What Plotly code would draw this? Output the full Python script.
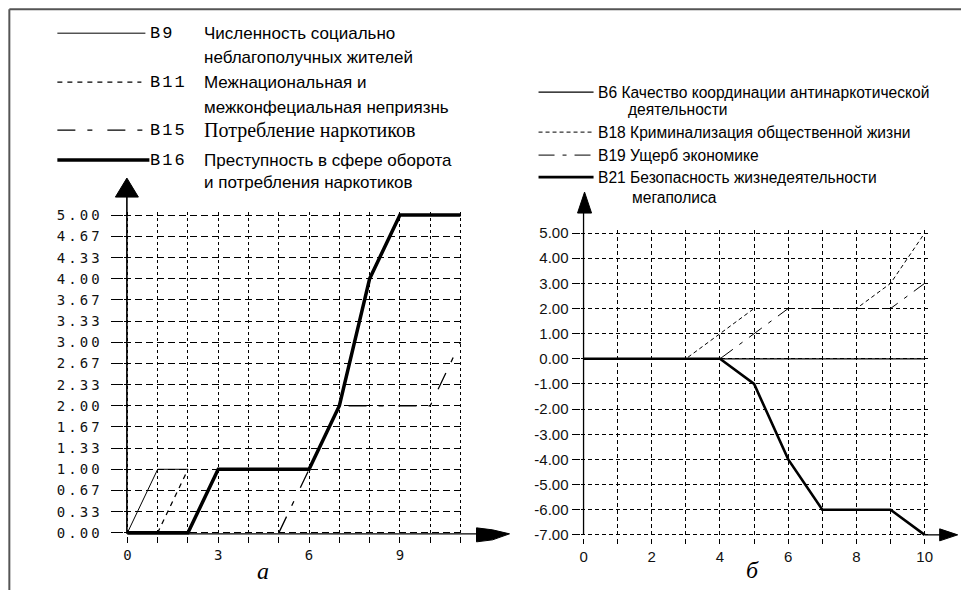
import plotly.graph_objects as go

# ---------------- data ----------------
a_x_ticks = [0, 1, 2, 3, 4, 5, 6, 7, 8, 9, 10, 11]
a_x_labels = ["0", "", "", "3", "", "", "6", "", "", "9", "", ""]
a_y_labels = ["0.00", "0.33", "0.67", "1.00", "1.33", "1.67", "2.00", "2.33",
              "2.67", "3.00", "3.33", "3.67", "4.00", "4.33", "4.67", "5.00"]

b9_x = [0, 1, 2]
b9_y = [0, 1, 1]
b11_x = [0, 1, 2]
b11_y = [0, 0, 1]
b15_x = [5, 6, 7, 10, 11]
b15_y = [0, 1, 2, 2, 3]
b16_x = [0, 2, 3, 6, 7, 8, 9, 11]
b16_y = [0, 0, 1, 1, 2, 4, 5, 5]

a_codes = ["B9", "B11", "B15", "B16"]
a_desc = [["Численность социально", "неблагополучных жителей"],
          ["Межнациональная и", "межконфециальная неприязнь"],
          ["Потребление наркотиков"],
          ["Преступность в сфере оборота", "и потребления наркотиков"]]

b_x_ticks = [0, 1, 2, 3, 4, 5, 6, 7, 8, 9, 10]
b_x_labels = ["0", "", "2", "", "4", "", "6", "", "8", "", "10"]
b_y_ticks = [-7, -6, -5, -4, -3, -2, -1, 0, 1, 2, 3, 4, 5]
b_y_labels = ["-7.00", "-6.00", "-5.00", "-4.00", "-3.00", "-2.00", "-1.00",
              "0.00", "1.00", "2.00", "3.00", "4.00", "5.00"]

b6_x = [0, 10]
b6_y = [0, 0]
b18_x = [0, 3, 4, 5, 8, 9, 10]
b18_y = [0, 0, 1, 2, 2, 3, 5]
b19_x = [4, 5, 6, 9, 10]
b19_y = [0, 1, 2, 2, 3]
b21_x = [0, 4, 5, 6, 7, 9, 10]
b21_y = [0, 0, -1, -4, -6, -6, -7]

b_codes = ["B6", "B18", "B19", "B21"]
b_desc = [["Качество координации антинаркотической", "деятельности"],
          ["Криминализация общественной жизни"],
          ["Ущерб экономике"],
          ["Безопасность жизнедеятельности", "мегаполиса"]]

# ---------------- styles ----------------
W, H = 961, 590
BLACK = "#000000"
a_styles = [dict(width=1.0, dash="solid"),
            dict(width=1.3, dash="5px,5px"),
            dict(width=1.3, dash="18px,12px,5px,15px"),
            dict(width=3.5, dash="solid")]
b_styles = [dict(width=1.2, dash="solid"),
            dict(width=1.0, dash="4px,3px"),
            dict(width=1.0, dash="16px,8px,4px,8px"),
            dict(width=2.6, dash="solid")]

MONO = "DejaVu Sans Mono"
SANS = "Liberation Sans, Arial, sans-serif"
SERIF = "Liberation Serif, Times New Roman, serif"

# measured rendering offset/scale of the capture (compensated below)
SX, OX = 0.9934, 0.66
SY, OY = 0.982, 5.8


def px(x):
    return ((x - OX) / SX) / W


def py(y):
    return 1 - ((y - OY) / SY) / H


def axis_x(p0, p1, v0, v1, pad=3):
    s = (p1 - p0) / (v1 - v0)
    return [v0 - pad / s, v1 + pad / s], [px(p0 - pad), px(p1 + pad)]


def axis_y(p0, p1, v0, v1, pad=3):
    s = (p0 - p1) / (v1 - v0)
    return [v0 - pad / s, v1 + pad / s], [py(p0 + pad), py(p1 - pad)]


A_X0, A_X1 = 127, 460   # x = 0 .. 11
A_Y0, A_Y1 = 533, 215   # y = 0 .. 5
B_X0, B_X1 = 583, 924   # x = 0 .. 10
B_Y0, B_Y1 = 535, 233   # y = -7 .. 5

a_xr, a_xd = axis_x(A_X0, A_X1, 0, 11)
a_yr, a_yd = axis_y(A_Y0, A_Y1, 0, 5)
b_xr, b_xd = axis_x(B_X0, B_X1, 0, 10)
b_yr, b_yd = axis_y(B_Y0, B_Y1, -7, 5)

fig = go.Figure()

a_series = [(b9_x, b9_y), (b11_x, b11_y), (b15_x, b15_y), (b16_x, b16_y)]
for (xs, ys), st, code in zip(a_series, a_styles, a_codes):
    fig.add_trace(go.Scatter(x=xs, y=ys, mode="lines", name=code,
                             line=dict(color=BLACK, width=st["width"], dash=st["dash"]),
                             xaxis="x", yaxis="y", showlegend=False))

b_series = [(b6_x, b6_y), (b18_x, b18_y), (b19_x, b19_y), (b21_x, b21_y)]
for (xs, ys), st, code in zip(b_series, b_styles, b_codes):
    fig.add_trace(go.Scatter(x=xs, y=ys, mode="lines", name=code,
                             line=dict(color=BLACK, width=st["width"], dash=st["dash"]),
                             xaxis="x2", yaxis="y2", showlegend=False))

spaced = lambda t: "<span style='letter-spacing:3px'>%s</span>" % t

common = dict(showline=False, zeroline=False, showgrid=True, gridcolor=BLACK,
              gridwidth=1, ticks="outside", tickcolor=BLACK, tickwidth=1, fixedrange=True)

fig.update_layout(
    width=W, height=H, margin=dict(l=0, r=0, t=0, b=0),
    paper_bgcolor="white", plot_bgcolor="rgba(0,0,0,0)",
    xaxis=dict(domain=a_xd, range=a_xr, tickmode="array", tickvals=a_x_ticks,
               ticktext=a_x_labels, griddash="3px,3px", ticklen=6,
               tickfont=dict(family=MONO, size=14, color="#111"), anchor="y", **common),
    yaxis=dict(domain=a_yd, range=a_yr, tickmode="array",
               tickvals=[float(t) for t in a_y_labels],
               ticktext=[spaced(t) for t in a_y_labels], griddash="7px,4px", ticklen=12,
               ticklabelstandoff=6,
               tickfont=dict(family=MONO, size=14, color="#111"), anchor="x", **common),
    xaxis2=dict(domain=b_xd, range=b_xr, tickmode="array", tickvals=b_x_ticks,
                ticktext=b_x_labels, griddash="4px,3px", ticklen=5,
                tickfont=dict(family=SANS, size=15, color="#111"), anchor="y2", **common),
    yaxis2=dict(domain=b_yd, range=b_yr, tickmode="array", tickvals=b_y_ticks,
                ticktext=b_y_labels, griddash="4px,3px", ticklen=8,
                tickfont=dict(family=SANS, size=15, color="#111"), anchor="x2", **common),
)

shapes = []
ann = []


def line(x0, y0, x1, y1, width=1.2, dash="solid", color=BLACK):
    shapes.append(dict(type="line", xref="paper", yref="paper",
                       x0=px(x0), y0=py(y0), x1=px(x1), y1=py(y1),
                       line=dict(color=color, width=width, dash=dash)))


def poly(points):
    d = "M" + " L".join("%.5f,%.5f" % (px(x), py(y)) for x, y in points) + " Z"
    shapes.append(dict(type="path", xref="paper", yref="paper", path=d,
                       fillcolor=BLACK, line=dict(color=BLACK, width=1)))


def text(x, y, s, family, size, italic=False):
    ann.append(dict(x=px(x), y=py(y), xref="paper", yref="paper", text=s,
                    showarrow=False, xanchor="left", yanchor="middle",
                    font=dict(family=family, size=size, color=BLACK,
                              style="italic" if italic else "normal")))


# frame
line(9, 9, W + 10, 9, width=2, color="#555")
line(9, 9, 9, H + 10, width=2, color="#555")

# panel a axes with arrows
line(A_X0, A_Y0 + 1, 478, A_Y0 + 1, width=1.3)
poly([(476, 528), (492, 530), (509, A_Y0 + 1), (492, 540), (476, 542)])
line(A_X0 - 0.5, A_Y0 + 1, A_X0 - 0.5, 197, width=1.6)
poly([(115, 197), (126.5, 178), (138, 197)])

# panel b axes with arrows
line(B_X0, B_Y0, B_X0, 212, width=1.3)
poly([(577, 213), (584, 192), (591, 213)])
line(B_X1, B_Y0, 940, B_Y0, width=1.3)
poly([(939, 529), (957, B_Y0), (939, 541)])

# legend of panel a
a_rows = [[33, 57], [82, 107], [130], [160, 182]]
a_line_end = [145, 141, 149, 149]
for code, desc, rows, st, le in zip(a_codes, a_desc, a_rows, a_styles, a_line_end):
    line(57, rows[0], le, rows[0], width=st["width"], dash=st["dash"])
    text(148, rows[0], "<span style='letter-spacing:2px'>%s</span>" % code,
         "Liberation Mono", 17)
    for t, yy in zip(desc, rows):
        if code == "B15":
            text(202, yy, t, SERIF, 20)
        else:
            text(202, yy, t, SANS, 17)

# legend of panel b
b_rows = [[92, 109], [132], [155], [177, 197]]
b_indent = [625, None, None, 629]
for code, desc, rows, st, ind in zip(b_codes, b_desc, b_rows, b_styles, b_indent):
    line(538, rows[0], 593, rows[0], width=st["width"], dash=st["dash"])
    text(595, rows[0], code + " " + desc[0], SANS, 15.6)
    if len(desc) > 1:
        text(ind, rows[1], desc[1], SANS, 15.6)

text(255, 571, "а", SERIF, 24, italic=True)
text(743, 570, "б", SERIF, 24, italic=True)

fig.update_layout(shapes=shapes, annotations=ann)
fig.write_html(
    "out.html",
    config={"displayModeBar": False},
    post_script=("document.body.style.margin='0';document.body.style.overflow='hidden';"
                 "document.documentElement.style.overflow='hidden';"),
)
